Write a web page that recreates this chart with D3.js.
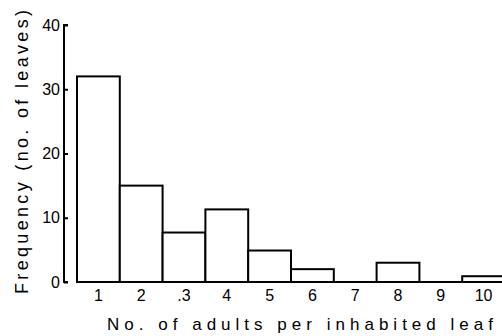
<!DOCTYPE html>
<html>
<head>
<meta charset="utf-8">
<script src="https://cdn.jsdelivr.net/npm/d3@7"></script>
<style>
  body { margin: 0; background: #fff; }
  text { font-family: "Liberation Sans", Arial, sans-serif; fill: #000; }
</style>
</head>
<body>
<div id="chart"></div>
<script>
// adults per inhabited leaf -> number of leaves
const categories = ['1', '2', '3', '4', '5', '6', '7', '8', '9', '10'];
const tickLabels = ['1', '2', '.3', '4', '5', '6', '7', '8', '9', '10'];
const frequency = [32, 15, 7.7, 11.3, 4.9, 2, 0, 3, 0, 0.9];
const yTicks = [0, 10, 20, 30, 40];

const width = 502, height = 336;

const svg = d3.select('#chart').append('svg')
  .attr('width', width)
  .attr('height', height);

const xScale = d3.scaleBand().domain(categories).range([77, 505]).padding(0);
const yScale = d3.scaleLinear().domain([0, 40]).range([282, 25]);

// y axis: ticks point inward
const yAxis = d3.axisRight(yScale).tickValues(yTicks).tickSize(4).tickFormat(d3.format('d'));
const gy = svg.append('g')
  .attr('transform', 'translate(64,0)')
  .call(yAxis);
gy.select('.domain').attr('stroke', '#000').attr('stroke-width', 2)
  .attr('d', 'M4,' + yScale(40) + 'H0V' + yScale(0) + 'H4');
gy.selectAll('.tick line').attr('stroke', '#000').attr('stroke-width', 2);
gy.selectAll('.tick text')
  .attr('x', -4)
  .attr('text-anchor', 'end')
  .style('font-size', '16px');

// bars
svg.append('g').selectAll('rect')
  .data(frequency)
  .join('rect')
  .attr('x', (d, i) => xScale(categories[i]))
  .attr('y', d => yScale(d))
  .attr('width', xScale.bandwidth())
  .attr('height', d => yScale(0) - yScale(d))
  .attr('fill', '#fff')
  .attr('stroke', '#000')
  .attr('stroke-width', 2);

// baseline
svg.append('line')
  .attr('x1', xScale(categories[0]))
  .attr('x2', width)
  .attr('y1', yScale(0))
  .attr('y2', yScale(0))
  .attr('stroke', '#000')
  .attr('stroke-width', 2);

// x tick labels
const xAxis = d3.axisBottom(xScale).tickSize(0).tickFormat((d, i) => tickLabels[i]);
const gx = svg.append('g')
  .attr('transform', 'translate(0,' + (yScale(0) + 5) + ')')
  .call(xAxis);
gx.select('.domain').remove();
gx.selectAll('.tick text').style('font-size', '16px');

// axis titles
svg.append('text')
  .attr('x', 300)
  .attr('y', 330)
  .attr('text-anchor', 'middle')
  .attr('textLength', 386)
  .attr('lengthAdjust', 'spacing')
  .style('font-size', '17px')
  .text('No. of adults per inhabited leaf');

svg.append('text')
  .attr('transform', 'translate(28,152) rotate(-90)')
  .attr('text-anchor', 'middle')
  .attr('textLength', 284)
  .attr('lengthAdjust', 'spacing')
  .style('font-size', '18px')
  .text('Frequency (no. of leaves)');
</script>
</body>
</html>
